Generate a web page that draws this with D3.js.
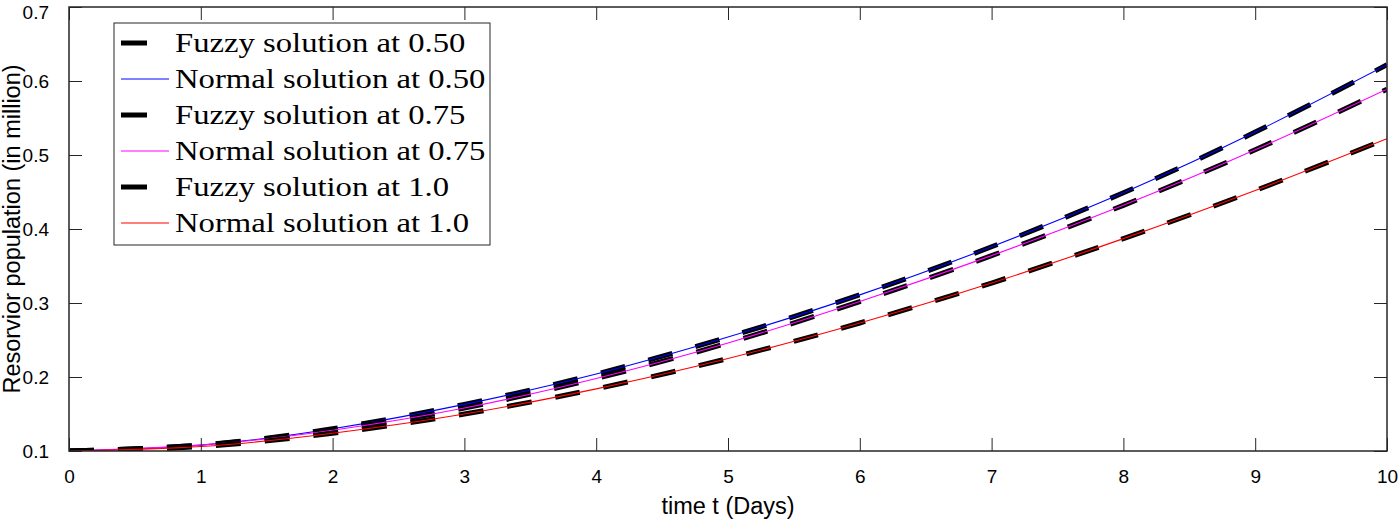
<!DOCTYPE html>
<html>
<head>
<meta charset="utf-8">
<script src="https://cdn.jsdelivr.net/npm/d3@7"></script>
<style>
  body { margin: 0; background: #fff; }
  svg { display: block; }
</style>
</head>
<body>
<svg id="chart" width="1399" height="519"></svg>
<script>
// ---- data ----
const days = [0, 1, 2, 3, 4, 5, 6, 7, 8, 9, 10];
const normal050 = [0.100, 0.108, 0.130, 0.163, 0.204, 0.254, 0.311, 0.376, 0.449, 0.531, 0.622];
const normal075 = [0.100, 0.108, 0.128, 0.158, 0.198, 0.246, 0.302, 0.364, 0.432, 0.507, 0.589];
const normal100 = [0.100, 0.106, 0.124, 0.150, 0.184, 0.225, 0.273, 0.327, 0.387, 0.452, 0.522];
const fuzzy050 = [0.100, 0.108, 0.130, 0.163, 0.204, 0.254, 0.311, 0.376, 0.449, 0.531, 0.622];
const fuzzy075 = [0.100, 0.108, 0.128, 0.158, 0.198, 0.246, 0.302, 0.364, 0.432, 0.507, 0.589];
const fuzzy100 = [0.100, 0.106, 0.124, 0.150, 0.184, 0.225, 0.273, 0.327, 0.387, 0.452, 0.522];
const xTicks = [0, 1, 2, 3, 4, 5, 6, 7, 8, 9, 10];
const yTicks = [0.1, 0.2, 0.3, 0.4, 0.5, 0.6, 0.7];
const seriesNames = ["Fuzzy solution at 0.50", "Normal solution at 0.50",
                     "Fuzzy solution at 0.75", "Normal solution at 0.75",
                     "Fuzzy solution at 1.0", "Normal solution at 1.0"];
const xTitle = "time t (Days)";
const yTitle = "Resorvior population (in million)";

// ---- layout ----
const svg = d3.select("#chart");
const L = 69, R = 1387, T = 7, B = 451;
const x = d3.scaleLinear().domain([0, 10]).range([L, R]);
const y = d3.scaleLinear().domain([0.1, 0.7]).range([B, T]);
const axisColor = "#262626";
const tickLen = 13;

const series = [
  { name: seriesNames[0], values: fuzzy050, color: "#000", width: 5, dash: "25,24" },
  { name: seriesNames[1], values: normal050, color: "#0000ff", width: 1.1, dash: null },
  { name: seriesNames[2], values: fuzzy075, color: "#000", width: 5, dash: "25,24" },
  { name: seriesNames[3], values: normal075, color: "#ff00ff", width: 1.1, dash: null },
  { name: seriesNames[4], values: fuzzy100, color: "#000", width: 5, dash: "25,24" },
  { name: seriesNames[5], values: normal100, color: "#ff0000", width: 1.1, dash: null }
];

const line = d3.line().x(d => x(d[0])).y(d => y(d[1])).curve(d3.curveNatural);

const plot = svg.append("g");
plot.append("defs").append("clipPath").attr("id", "clip")
  .append("rect").attr("x", L).attr("y", T).attr("width", R - L).attr("height", B - T);

const lines = plot.append("g").attr("clip-path", "url(#clip)");
series.forEach(s => {
  lines.append("path")
    .datum(days.map((d, i) => [d, s.values[i]]))
    .attr("d", line)
    .attr("fill", "none")
    .attr("stroke", s.color)
    .attr("stroke-width", s.width)
    .attr("stroke-dasharray", s.dash)
    .attr("stroke-linecap", "butt");
});

// ---- axes (MATLAB style box, inward ticks) ----
const axFont = "'Liberation Sans', Arial, Helvetica, sans-serif";
const bottomAxis = d3.axisBottom(x).tickValues(xTicks).tickSize(-tickLen).tickPadding(tickLen + 6).tickFormat(d3.format("d"));
const topAxis = d3.axisTop(x).tickValues(xTicks).tickSize(-tickLen).tickFormat("");
const leftAxis = d3.axisLeft(y).tickValues(yTicks).tickSize(-tickLen).tickPadding(tickLen + 7).tickFormat(d3.format(".1f"));
const rightAxis = d3.axisRight(y).tickValues(yTicks).tickSize(-tickLen).tickFormat("");

function styleAxis(g) {
  g.select(".domain").remove();
  g.selectAll(".tick line").attr("stroke", axisColor).attr("stroke-width", 1);
  g.selectAll(".tick text").attr("fill", "#000").style("font-family", axFont).style("font-size", "19px");
}
svg.append("g").attr("transform", `translate(0,${B})`).call(bottomAxis).call(styleAxis);
svg.append("g").attr("transform", `translate(0,${T})`).call(topAxis).call(styleAxis);
const yAx = svg.append("g").attr("transform", `translate(${L},0)`).call(leftAxis).call(styleAxis);
// keep the top label (0.7) inside the picture
yAx.selectAll(".tick text").filter((d, i, n) => i === n.length - 1).attr("dy", "0.62em");
svg.append("g").attr("transform", `translate(${R},0)`).call(rightAxis).call(styleAxis);

svg.append("rect").attr("x", L).attr("y", T).attr("width", R - L).attr("height", B - T)
  .attr("fill", "none").attr("stroke", axisColor).attr("stroke-width", 1.5);

// axis titles
svg.append("text").attr("x", (L + R) / 2).attr("y", 514).attr("text-anchor", "middle")
  .style("font-family", axFont).style("font-size", "23.5px").attr("fill", "#000").text(xTitle);
svg.append("text").attr("transform", `translate(20,${(T + B) / 2}) rotate(-90)`).attr("text-anchor", "middle")
  .style("font-family", axFont).style("font-size", "23.5px").attr("fill", "#000").text(yTitle);

// ---- legend ----
const lg = svg.append("g");
lg.append("rect").attr("x", 114).attr("y", 23).attr("width", 376).attr("height", 222)
  .attr("fill", "#fff").attr("stroke", axisColor).attr("stroke-width", 1);
series.forEach((s, i) => {
  const cy = 43 + i * 36;
  lg.append("line").attr("x1", 121).attr("x2", 169).attr("y1", cy).attr("y2", cy)
    .attr("stroke", s.color).attr("stroke-width", s.width)
    .attr("stroke-dasharray", s.dash ? "26,30" : null);
  const t = lg.append("text").attr("x", 175).attr("y", cy + 9)
    .style("font-family", "'Liberation Serif', 'Times New Roman', serif").style("font-size", "27px")
    .attr("fill", "#000").text(s.name);
  const w = t.node().getComputedTextLength();
  t.attr("textLength", w * 1.21).attr("lengthAdjust", "spacingAndGlyphs");
});
</script>
</body>
</html>
